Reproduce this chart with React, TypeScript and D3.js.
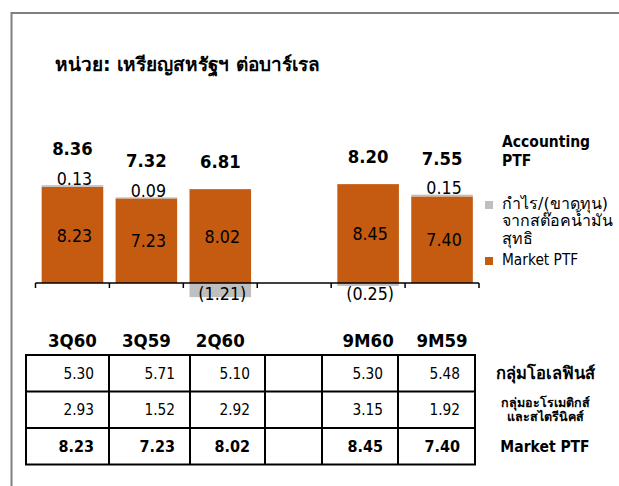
import React from 'react';
import * as d3 from 'd3';

// values (US$/bbl)
const categories = ['3Q60', '3Q59', '2Q60', '', '9M60', '9M59'];
const marketPTF = [8.23, 7.23, 8.02, null, 8.45, 7.4];
const stockGain = [0.13, 0.09, -1.21, null, -0.25, 0.15];
const accountingPTF = [8.36, 7.32, 6.81, null, 8.2, 7.55];
const olefins = [5.3, 5.71, 5.1, null, 5.3, 5.48];
const aromatics = [2.93, 1.52, 2.92, null, 3.15, 1.92];

const title = 'หน่วย: เหรียญสหรัฐฯ ต่อบาร์เรล';
const legendGain = ['กำไร/(ขาดทุน)', 'จากสต๊อคน้ำมัน', 'สุทธิ'];
const rowLabels = [['กลุ่มโอเลฟินส์'], ['กลุ่มอะโรเมติกส์', 'และสไตรีนิคส์'], ['Market PTF']];

// layout
const W = 619;
const H = 486;
const ORANGE = '#c55a11';
const GRAY = '#bfbfbf';
const colWidths = [83, 81, 75, 57, 76, 77];
const tableLeft = 26;
const tableTop = 355;
const rowH = 36.5;

const fmt = d3.format('.2f');
const lab = (v: number) => (v < 0 ? `(${fmt(-v)})` : fmt(v));

function T({ x, y, size, bold = false, anchor = 'middle', sx, children }: any) {
  // DejaVu squeezed a bit to get Tahoma-like widths (thai falls back, left as is)
  const k = sx ?? (bold ? 0.9 : 0.86);
  return (
    <text
      transform={`translate(${x},${y}) scale(${k},1)`}
      fontSize={size}
      fontWeight={bold ? 'bold' : 'normal'}
      textAnchor={anchor}
      fontFamily="'DejaVu Sans', Verdana, sans-serif"
      fill="#000"
    >
      {children}
    </text>
  );
}

export default function App() {
  const x = d3.scaleBand<string>().domain(categories).range([35.5, 479]).paddingInner(0.167).paddingOuter(0.0835);
  const y = d3.scaleLinear().domain([0, 10]).range([283, 166]);
  const y0 = y(0);
  const step = x.step();
  const bounds = d3.range(categories.length + 1).map((i) => 35.5 + i * step);

  const colEdges = [tableLeft];
  colWidths.forEach((w) => colEdges.push(colEdges[colEdges.length - 1] + w));
  const tableRight = colEdges[colEdges.length - 1];
  const rows = [olefins, aromatics, marketPTF];

  return (
    <svg width={W} height={H} style={{ position: 'absolute', left: 0, top: 0, background: '#fff' }}>
      {/* frame */}
      <path d={`M${W},13 H11.5 V${H}`} fill="none" stroke="#7f7f7f" strokeWidth={2} />

      <T x={55} y={70.5} size={19} bold anchor="start" sx={1}>{title}</T>

      {/* bars */}
      {categories.map((c, i) => {
        const m = marketPTF[i];
        if (m == null) return null;
        const g = stockGain[i] as number;
        const bx = x(c) as number;
        const bw = x.bandwidth();
        const cx = bx + bw / 2;
        const top = g > 0 ? y(m + g) : y(m);
        return (
          <g key={c}>
            <rect x={bx} y={y(m)} width={bw} height={y0 - y(m)} fill={ORANGE} />
            {g > 0 ? (
              <rect x={bx} y={y(m + g)} width={bw} height={y(m) - y(m + g)} fill={GRAY} />
            ) : (
              <rect x={bx} y={y0} width={bw} height={y(g) - y0} fill={GRAY} />
            )}
            <T x={cx + 2} y={(y0 + y(m)) / 2 + 6.7} size={18.5}>{fmt(m)}</T>
            {g > 0 ? (
              <T x={cx + 2} y={top - 0.5} size={18.5}>{lab(g)}</T>
            ) : (
              <T x={cx + 2} y={y0 + 17} size={18.5}>{lab(g)}</T>
            )}
            <T x={cx} y={top - (g > 0 ? 30 : 21.5)} size={18.3} bold>{fmt(accountingPTF[i] as number)}</T>
          </g>
        );
      })}

      {/* category axis */}
      <line x1={bounds[0]} x2={bounds[bounds.length - 1]} y1={y0} y2={y0} stroke="#000" strokeWidth={1.5} />
      {bounds.map((b, i) => (
        <line key={i} x1={b} x2={b} y1={y0} y2={y0 + 5} stroke="#000" strokeWidth={1.5} />
      ))}

      {/* legend */}
      <T x={502} y={147.3} size={15.5} bold anchor="start">Accounting</T>
      <T x={502} y={166} size={15.5} bold anchor="start">PTF</T>
      <rect x={485} y={201} width={8} height={8} fill={GRAY} />
      {legendGain.map((s, i) => (
        <T key={i} x={502} y={209 + i * 17.3} size={16} anchor="start" sx={1}>{s}</T>
      ))}
      <rect x={485} y={257} width={8} height={8} fill={ORANGE} />
      <T x={502} y={265} size={16} anchor="start">Market PTF</T>

      {/* table headers */}
      {categories.map((c) => (
        <T key={c || 'gap'} x={(x(c) as number) + x.bandwidth() / 2} y={346.5} size={18.5} bold>{c}</T>
      ))}

      {/* table */}
      <g stroke="#000" strokeWidth={2} fill="none">
        <rect x={tableLeft} y={tableTop} width={tableRight - tableLeft} height={rowH * 3} />
        {[1, 2].map((r) => (
          <line key={r} x1={tableLeft} x2={tableRight} y1={tableTop + r * rowH} y2={tableTop + r * rowH} />
        ))}
        {colEdges.slice(1, -1).map((e, i) => (
          <line key={i} x1={e} x2={e} y1={tableTop} y2={tableTop + rowH * 3} />
        ))}
      </g>
      {rows.map((vals, r) =>
        vals.map((v, i) =>
          v == null ? null : (
            <T key={`${r}-${i}`} x={colEdges[i + 1] - 15} y={tableTop + r * rowH + rowH / 2 + 5.5} size={16} bold={r === 2} anchor="end">
              {fmt(v)}
            </T>
          )
        )
      )}
      {rowLabels.map((lines, r) => {
        const cy = tableTop + r * rowH + rowH / 2;
        if (lines.length === 1)
          return r === 2 ? (
            <T key={r} x={545} y={cy + 6} size={15.5} bold>{lines[0]}</T>
          ) : (
            <T key={r} x={545} y={cy + 6} size={16.5} bold sx={1}>{lines[0]}</T>
          );
        return (
          <g key={r}>
            <T x={545} y={cy - 3} size={12.5} bold sx={1}>{lines[0]}</T>
            <T x={545} y={cy + 11.5} size={12.5} bold sx={1}>{lines[1]}</T>
          </g>
        );
      })}
    </svg>
  );
}
